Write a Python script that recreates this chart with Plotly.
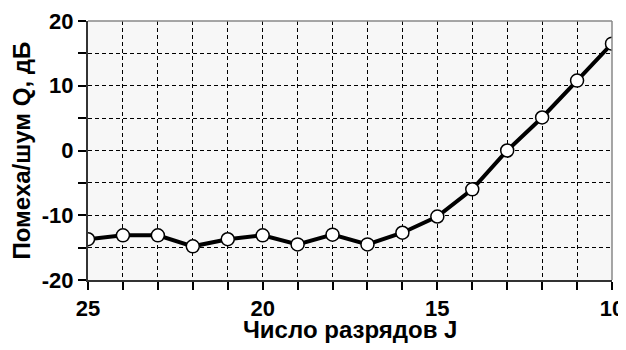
import plotly.graph_objects as go

bits = [25, 24, 23, 22, 21, 20, 19, 18, 17, 16, 15, 14, 13, 12, 11, 10]
q_db = [-13.7, -13.1, -13.1, -14.8, -13.7, -13.1, -14.5, -13.0, -14.5, -12.7,
        -10.2, -6.0, 0.0, 5.1, 10.8, 16.5]

x_tickvals = [25, 20, 15, 10]
y_tickvals = [-20, -10, 0, 10, 20]

x_title = "Число разрядов J"
y_title = "Помеха/шум Q, дБ"

FONT = "Liberation Sans, Arial"
FS = 22
TFS = 24

fig = go.Figure()
fig.add_trace(go.Scatter(
    x=bits, y=q_db, mode="lines+markers",
    line=dict(color="black", width=4),
    marker=dict(size=13, color="white", line=dict(color="black", width=1.5)),
    showlegend=False,
))

grid = dict(gridcolor="black", griddash="4px,3px", gridwidth=1.3)

# the page body keeps an 8px default margin; the figure is sized/offset to compensate
fig.update_layout(
    width=618, height=342,
    margin=dict(l=80, r=14, t=13, b=70),
    paper_bgcolor="white",
    plot_bgcolor="#f7f7f7",
    font=dict(family=FONT, size=FS, color="black"),
)
fig.update_xaxes(
    range=[25, 10], tickmode="array", tickvals=x_tickvals,
    ticktext=["<b>%d</b>" % v for v in x_tickvals],
    ticks="outside", ticklen=8, tickwidth=1.5, tickcolor="black",
    showgrid=True, **grid,
    minor=dict(dtick=1, tick0=10, ticks="outside", ticklen=8, tickwidth=1.5, tickcolor="black",
               showgrid=True, **grid),
    showline=True, linecolor="#333", linewidth=2, mirror=False,
    tickfont=dict(family=FONT, size=FS, color="black"),
    ticklabelstandoff=0, automargin=False,
    zeroline=False,
)
fig.update_yaxes(
    range=[-20, 20], tickmode="array", tickvals=y_tickvals,
    ticktext=["<b>%d</b>" % v for v in y_tickvals],
    ticks="outside", ticklen=8, tickwidth=1.5, tickcolor="black",
    showgrid=True, **grid,
    minor=dict(dtick=5, tick0=0, ticks="outside", ticklen=8, tickwidth=1.5, tickcolor="black",
               showgrid=True, **grid),
    showline=True, linecolor="#333", linewidth=2, mirror=False,
    tickfont=dict(family=FONT, size=FS, color="black"),
    automargin=False,
    zeroline=False,
)
fig.add_annotation(text="<b>" + x_title + "</b>", xref="paper", yref="paper",
                   x=0.5, y=-0.19, yanchor="middle", showarrow=False,
                   font=dict(family=FONT, size=TFS, color="black"))
fig.add_annotation(text="<b>" + y_title + "</b>", xref="paper", yref="paper",
                   x=-0.126, y=0.5, xanchor="center", yanchor="middle", textangle=-90,
                   showarrow=False, font=dict(family=FONT, size=TFS, color="black"))
fig.add_shape(type="line", xref="paper", yref="paper", x0=0, x1=1, y0=1, y1=1,
              line=dict(color="#888", width=1.5))
fig.add_shape(type="line", xref="paper", yref="paper", x0=1, x1=1, y0=0, y1=1,
              line=dict(color="#888", width=1.5))

fig.write_html("out.html")
